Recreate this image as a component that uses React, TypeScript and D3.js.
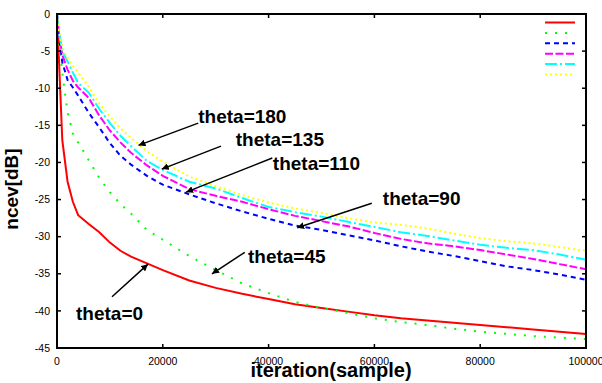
import * as d3 from 'd3'

// iteration grid the curves were read at
const iterations = [0, 300, 1000, 2000, 3000, 4000, 6000, 8000, 10000, 12000, 14000, 17000, 20000, 25000, 30000, 35000, 40000, 45000, 50000, 55000, 60000, 65000, 70000, 75000, 80000, 85000, 90000, 95000, 100000]

const theta0 = [0, -5, -17, -22.6, -25.3, -27.1, -28.3, -29.4, -30.8, -31.9, -32.7, -33.6, -34.5, -35.9, -36.9, -37.7, -38.4, -39.1, -39.6, -40.1, -40.6, -41.0, -41.3, -41.6, -41.9, -42.2, -42.5, -42.8, -43.1]
const theta45 = [0, -3, -8, -13.2, -16.1, -17.3, -19.7, -22.1, -24.0, -25.6, -26.9, -29.1, -30.4, -32.6, -34.5, -36.3, -37.6, -38.8, -39.6, -40.3, -41.0, -41.5, -41.9, -42.4, -42.8, -43.1, -43.4, -43.6, -43.8]
const theta90 = [0, -2.5, -6.5, -8.9, -9.9, -11.0, -13.3, -15.3, -17.4, -19.1, -20.3, -21.8, -23.0, -24.3, -25.5, -26.6, -27.6, -28.5, -29.1, -29.8, -30.5, -31.3, -32.0, -32.6, -33.3, -34.0, -34.5, -35.1, -35.8]
const theta110 = [0, -2.3, -5.5, -7.5, -9.0, -9.9, -11.3, -13.7, -15.7, -17.3, -18.7, -20.4, -21.8, -23.6, -24.5, -25.3, -26.3, -27.2, -27.9, -28.6, -29.5, -30.3, -30.9, -31.3, -31.8, -32.4, -33.0, -33.7, -34.4]
const theta135 = [0, -2.2, -5.0, -6.4, -7.9, -9.3, -10.6, -12.8, -14.7, -16.4, -17.8, -19.8, -21.0, -22.6, -23.5, -24.8, -26.0, -26.7, -27.3, -28.0, -28.7, -29.4, -29.9, -30.5, -31.1, -31.5, -31.8, -32.4, -33.1]
const theta180 = [0, -2.0, -4.5, -6.0, -7.0, -7.9, -9.8, -12.1, -13.8, -15.4, -16.7, -18.5, -19.9, -21.9, -23.2, -24.4, -25.4, -26.2, -26.8, -27.5, -28.1, -28.4, -28.9, -29.6, -30.2, -30.6, -30.9, -31.4, -31.9]

const xTicks = [0, 20000, 40000, 60000, 80000, 100000]
const yTicks = [0, -5, -10, -15, -20, -25, -30, -35, -40, -45]

const series = [
  { name: 'theta=0', values: theta0, color: '#ff0000', dash: 'none' },
  { name: 'theta=45', values: theta45, color: '#00ff00', dash: '2 8' },
  { name: 'theta=90', values: theta90, color: '#0000ff', dash: '5 4' },
  { name: 'theta=110', values: theta110, color: '#ff00ff', dash: '8 2.5' },
  { name: 'theta=135', values: theta135, color: '#00ffff', dash: '12 3 2 3' },
  { name: 'theta=180', values: theta180, color: '#ffff00', dash: '2 3' },
]

// label text position [iteration, dB] and arrow head [iteration, dB]
const labels = [
  { text: 'theta=180', at: [26700, -14.7], tail: [26700, -14.7], head: [15400, -17.7] },
  { text: 'theta=135', at: [33800, -17.8], tail: [31000, -17.8], head: [19800, -20.9] },
  { text: 'theta=110', at: [40800, -21.0], tail: [40700, -19.4], head: [24400, -24.0] },
  { text: 'theta=90', at: [61600, -25.7], tail: [59500, -25.5], head: [45400, -28.8] },
  { text: 'theta=45', at: [36100, -33.6], tail: [35500, -32.1], head: [29300, -35.0] },
  { text: 'theta=0', at: [3600, -41.2], tail: [10400, -38.1], head: [17200, -33.7] },
]

export default function App() {
  const W = 602
  const H = 383
  const x = d3.scaleLinear().domain([0, 100000]).range([57, 586])
  const y = d3.scaleLinear().domain([0, -45]).range([14, 348])
  const [x0, x1] = x.range()
  const [y0, y1] = y.range()
  const font = '"Liberation Sans", Arial, Helvetica, sans-serif'

  const line = (vals: number[]) =>
    d3.line<number>()
      .x((_, i) => x(iterations[i]))
      .y(d => y(d))(vals) || ''

  return (
    <svg width={W} height={H} style={{ position: 'absolute', left: 0, top: 0, background: '#fff' }} fontFamily={font}>
      <defs>
        <marker id="ah" viewBox="0 0 10 10" refX="10" refY="5" markerWidth="7" markerHeight="7" markerUnits="userSpaceOnUse" orient="auto">
          <path d="M0,0 L10,5 L0,10 z" fill="#000" />
        </marker>
      </defs>

      {/* curves */}
      {series.map(s => (
        <path key={s.name} d={line(s.values)} fill="none" stroke={s.color} strokeWidth={2}
          strokeDasharray={s.dash} />
      ))}

      {/* legend (empty titles) */}
      {series.map((s, i) => (
        <line key={'lg' + s.name} x1={545} x2={575} y1={22.5 + i * 10.4} y2={22.5 + i * 10.4}
          stroke={s.color} strokeWidth={2} strokeDasharray={s.dash} />
      ))}

      {/* frame */}
      <rect x={x0} y={y0} width={x1 - x0} height={y1 - y0} fill="none" stroke="#000" strokeWidth={2} />

      {/* ticks */}
      {xTicks.map(t => (
        <g key={'xt' + t}>
          <line x1={x(t)} x2={x(t)} y1={y1} y2={y1 - 4} stroke="#000" strokeWidth={1.5} />
          <line x1={x(t)} x2={x(t)} y1={y0} y2={y0 + 4} stroke="#000" strokeWidth={1.5} />
          <text x={x(t)} y={365} textAnchor="middle" fontSize={10.5} fill="#000">{t}</text>
        </g>
      ))}
      {yTicks.map(t => (
        <g key={'yt' + t}>
          <line x1={x0} x2={x0 + 4} y1={y(t)} y2={y(t)} stroke="#000" strokeWidth={1.5} />
          <line x1={x1} x2={x1 - 4} y1={y(t)} y2={y(t)} stroke="#000" strokeWidth={1.5} />
          <text x={50} y={y(t)} dy="0.35em" textAnchor="end" fontSize={10.5} fill="#000">{t}</text>
        </g>
      ))}

      {/* axis titles */}
      <text x={331} y={377} textAnchor="middle" fontSize={20} fontWeight="bold">iteration(sample)</text>
      <text transform="translate(17.5,189) rotate(-90)" textAnchor="middle" fontSize={19} fontWeight="bold">ncev[dB]</text>

      {/* annotations */}
      {labels.map(l => (
        <g key={l.text}>
          <line x1={x(l.tail[0])} y1={y(l.tail[1])} x2={x(l.head[0])} y2={y(l.head[1])}
            stroke="#000" strokeWidth={1.5} markerEnd="url(#ah)" />
          <text x={x(l.at[0])} y={y(l.at[1])} fontSize={19} fontWeight="bold" fill="#000">{l.text}</text>
        </g>
      ))}
    </svg>
  )
}
